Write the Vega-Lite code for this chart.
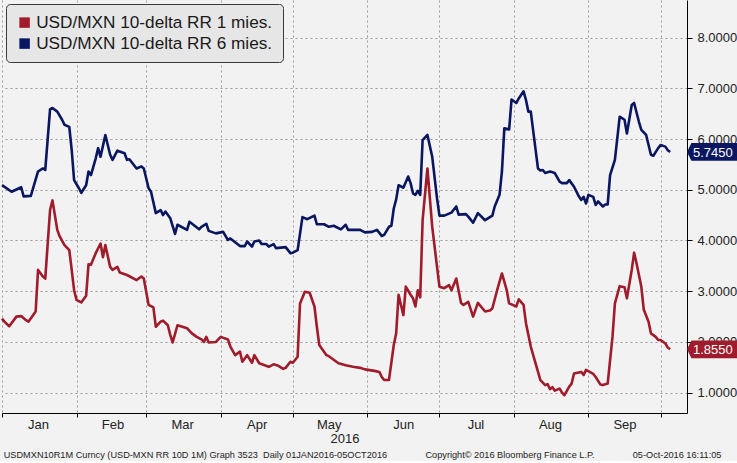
{
  "$schema": "https://vega.github.io/schema/vega-lite/v6.json",
  "width": 685,
  "height": 413,
  "padding": 0,
  "background": "#f2f2f2",
  "config": {
    "view": {"stroke": null},
    "font": "Liberation Sans",
    "axis": {
      "domainColor": "#000000",
      "tickColor": "#000000",
      "labelFont": "Liberation Sans",
      "labelFontSize": 13,
      "labelColor": "#222222",
      "gridColor": "#9a9a9a",
      "gridDash": [2, 3],
      "gridWidth": 1
    },
    "legend": {
      "orient": "top-left",
      "offset": 4,
      "padding": 10,
      "fillColor": "#e6e6e6",
      "strokeColor": "#3a3a3a",
      "cornerRadius": 4,
      "labelFont": "Liberation Sans",
      "labelFontSize": 17.2,
      "labelColor": "#1a1a1a",
      "labelLimit": 400,
      "symbolType": "square",
      "symbolSize": 110,
      "symbolStrokeWidth": 0,
      "labelOffset": 3,
      "rowPadding": 3
    }
  },
  "title": {
    "text": "USDMXN10R1M Curncy (USD-MXN RR 10D 1M) Graph 3523\u00a0\u00a0Daily 01JAN2016-05OCT2016\u00a0\u00a0\u00a0\u00a0\u00a0\u00a0\u00a0\u00a0\u00a0\u00a0\u00a0\u00a0\u00a0\u00a0\u00a0Copyright© 2016 Bloomberg Finance L.P.\u00a0\u00a0\u00a0\u00a0\u00a0\u00a0\u00a0\u00a0\u00a0\u00a0\u00a0\u00a0\u00a0\u00a0\u00a005-Oct-2016 16:11:05",
    "orient": "bottom",
    "anchor": "start",
    "font": "Liberation Sans",
    "fontSize": 9.2,
    "fontWeight": "normal",
    "color": "#222222",
    "offset": 6,
    "dx": 3
  },
  "datasets": {
    "series": [
      {"d":"2016-01-01","s":"6M","v":5.09},{"d":"2016-01-05","s":"6M","v":4.96},{"d":"2016-01-09","s":"6M","v":5.05},{"d":"2016-01-10","s":"6M","v":4.87},{"d":"2016-01-13","s":"6M","v":4.88},{"d":"2016-01-16","s":"6M","v":5.36},{"d":"2016-01-18","s":"6M","v":5.42},{"d":"2016-01-19","s":"6M","v":5.39},{"d":"2016-01-21","s":"6M","v":6.59},{"d":"2016-01-22","s":"6M","v":6.61},{"d":"2016-01-24","s":"6M","v":6.54},{"d":"2016-01-26","s":"6M","v":6.38},{"d":"2016-01-27","s":"6M","v":6.28},{"d":"2016-01-29","s":"6M","v":6.24},{"d":"2016-01-30","s":"6M","v":5.78},{"d":"2016-01-31","s":"6M","v":5.19},
      {"d":"2016-02-02","s":"6M","v":5.03},{"d":"2016-02-03","s":"6M","v":4.94},{"d":"2016-02-05","s":"6M","v":5.09},{"d":"2016-02-06","s":"6M","v":5.36},{"d":"2016-02-07","s":"6M","v":5.29},{"d":"2016-02-09","s":"6M","v":5.62},{"d":"2016-02-10","s":"6M","v":5.82},{"d":"2016-02-11","s":"6M","v":5.65},{"d":"2016-02-13","s":"6M","v":6.08},{"d":"2016-02-15","s":"6M","v":5.69},{"d":"2016-02-16","s":"6M","v":5.59},{"d":"2016-02-18","s":"6M","v":5.77},{"d":"2016-02-21","s":"6M","v":5.72},{"d":"2016-02-22","s":"6M","v":5.59},{"d":"2016-02-23","s":"6M","v":5.6},{"d":"2016-02-26","s":"6M","v":5.42},{"d":"2016-02-28","s":"6M","v":5.46},{"d":"2016-02-29","s":"6M","v":5.42},
      {"d":"2016-03-02","s":"6M","v":5.03},{"d":"2016-03-03","s":"6M","v":4.96},{"d":"2016-03-05","s":"6M","v":4.54},{"d":"2016-03-07","s":"6M","v":4.6},{"d":"2016-03-08","s":"6M","v":4.5},{"d":"2016-03-09","s":"6M","v":4.57},{"d":"2016-03-11","s":"6M","v":4.44},{"d":"2016-03-13","s":"6M","v":4.13},{"d":"2016-03-14","s":"6M","v":4.31},{"d":"2016-03-18","s":"6M","v":4.21},{"d":"2016-03-19","s":"6M","v":4.37},{"d":"2016-03-23","s":"6M","v":4.22},{"d":"2016-03-24","s":"6M","v":4.27},{"d":"2016-03-26","s":"6M","v":4.33},{"d":"2016-03-27","s":"6M","v":4.19},{"d":"2016-03-30","s":"6M","v":4.14},
      {"d":"2016-04-02","s":"6M","v":4.17},{"d":"2016-04-04","s":"6M","v":4.01},{"d":"2016-04-05","s":"6M","v":4.04},{"d":"2016-04-09","s":"6M","v":3.89},{"d":"2016-04-11","s":"6M","v":3.89},{"d":"2016-04-12","s":"6M","v":3.98},{"d":"2016-04-14","s":"6M","v":3.88},{"d":"2016-04-15","s":"6M","v":3.98},{"d":"2016-04-17","s":"6M","v":4.0},{"d":"2016-04-18","s":"6M","v":3.93},{"d":"2016-04-20","s":"6M","v":3.93},{"d":"2016-04-21","s":"6M","v":3.88},{"d":"2016-04-23","s":"6M","v":3.93},{"d":"2016-04-24","s":"6M","v":3.85},{"d":"2016-04-28","s":"6M","v":3.87},{"d":"2016-04-30","s":"6M","v":3.75},
      {"d":"2016-05-01","s":"6M","v":3.76},{"d":"2016-05-03","s":"6M","v":3.81},{"d":"2016-05-05","s":"6M","v":4.46},{"d":"2016-05-07","s":"6M","v":4.42},{"d":"2016-05-10","s":"6M","v":4.49},{"d":"2016-05-11","s":"6M","v":4.32},{"d":"2016-05-14","s":"6M","v":4.32},{"d":"2016-05-16","s":"6M","v":4.27},{"d":"2016-05-18","s":"6M","v":4.29},{"d":"2016-05-21","s":"6M","v":4.22},{"d":"2016-05-23","s":"6M","v":4.31},{"d":"2016-05-24","s":"6M","v":4.21},{"d":"2016-05-29","s":"6M","v":4.21},{"d":"2016-05-31","s":"6M","v":4.16},
      {"d":"2016-06-03","s":"6M","v":4.17},{"d":"2016-06-05","s":"6M","v":4.21},{"d":"2016-06-07","s":"6M","v":4.09},{"d":"2016-06-08","s":"6M","v":4.11},{"d":"2016-06-10","s":"6M","v":4.27},{"d":"2016-06-11","s":"6M","v":4.29},{"d":"2016-06-12","s":"6M","v":4.63},{"d":"2016-06-13","s":"6M","v":4.81},{"d":"2016-06-14","s":"6M","v":5.09},{"d":"2016-06-16","s":"6M","v":5.04},{"d":"2016-06-18","s":"6M","v":5.26},{"d":"2016-06-19","s":"6M","v":5.13},{"d":"2016-06-20","s":"6M","v":4.93},{"d":"2016-06-21","s":"6M","v":4.9},{"d":"2016-06-22","s":"6M","v":4.98},{"d":"2016-06-23","s":"6M","v":4.9},{"d":"2016-06-24","s":"6M","v":5.98},{"d":"2016-06-26","s":"6M","v":6.08},{"d":"2016-06-28","s":"6M","v":5.65},{"d":"2016-06-30","s":"6M","v":4.83},
      {"d":"2016-07-01","s":"6M","v":4.49},{"d":"2016-07-03","s":"6M","v":4.49},{"d":"2016-07-06","s":"6M","v":4.55},{"d":"2016-07-08","s":"6M","v":4.67},{"d":"2016-07-09","s":"6M","v":4.51},{"d":"2016-07-12","s":"6M","v":4.52},{"d":"2016-07-13","s":"6M","v":4.47},{"d":"2016-07-15","s":"6M","v":4.35},{"d":"2016-07-17","s":"6M","v":4.54},{"d":"2016-07-20","s":"6M","v":4.4},{"d":"2016-07-23","s":"6M","v":4.49},{"d":"2016-07-24","s":"6M","v":4.67},{"d":"2016-07-26","s":"6M","v":4.9},{"d":"2016-07-27","s":"6M","v":5.36},{"d":"2016-07-28","s":"6M","v":6.21},{"d":"2016-07-30","s":"6M","v":6.19},{"d":"2016-07-31","s":"6M","v":6.78},
      {"d":"2016-08-02","s":"6M","v":6.71},{"d":"2016-08-03","s":"6M","v":6.8},{"d":"2016-08-05","s":"6M","v":6.94},{"d":"2016-08-06","s":"6M","v":6.77},{"d":"2016-08-07","s":"6M","v":6.54},{"d":"2016-08-08","s":"6M","v":6.54},{"d":"2016-08-10","s":"6M","v":5.79},{"d":"2016-08-11","s":"6M","v":5.42},{"d":"2016-08-12","s":"6M","v":5.38},{"d":"2016-08-13","s":"6M","v":5.39},{"d":"2016-08-14","s":"6M","v":5.33},{"d":"2016-08-16","s":"6M","v":5.36},{"d":"2016-08-18","s":"6M","v":5.33},{"d":"2016-08-20","s":"6M","v":5.16},{"d":"2016-08-21","s":"6M","v":5.13},{"d":"2016-08-23","s":"6M","v":5.13},{"d":"2016-08-24","s":"6M","v":5.19},{"d":"2016-08-26","s":"6M","v":5.06},{"d":"2016-08-28","s":"6M","v":4.87},{"d":"2016-08-29","s":"6M","v":4.8},{"d":"2016-08-30","s":"6M","v":4.86},{"d":"2016-08-31","s":"6M","v":4.73},
      {"d":"2016-09-01","s":"6M","v":4.9},{"d":"2016-09-03","s":"6M","v":4.86},{"d":"2016-09-04","s":"6M","v":4.7},{"d":"2016-09-05","s":"6M","v":4.77},{"d":"2016-09-07","s":"6M","v":4.67},{"d":"2016-09-08","s":"6M","v":4.71},{"d":"2016-09-09","s":"6M","v":4.71},{"d":"2016-09-10","s":"6M","v":5.29},{"d":"2016-09-12","s":"6M","v":5.59},{"d":"2016-09-14","s":"6M","v":6.44},{"d":"2016-09-16","s":"6M","v":6.38},{"d":"2016-09-17","s":"6M","v":6.11},{"d":"2016-09-19","s":"6M","v":6.67},{"d":"2016-09-20","s":"6M","v":6.71},{"d":"2016-09-22","s":"6M","v":6.34},{"d":"2016-09-23","s":"6M","v":6.18},{"d":"2016-09-25","s":"6M","v":6.08},{"d":"2016-09-27","s":"6M","v":5.69},{"d":"2016-09-28","s":"6M","v":5.67},{"d":"2016-09-30","s":"6M","v":5.82},
      {"d":"2016-10-01","s":"6M","v":5.88},{"d":"2016-10-03","s":"6M","v":5.85},{"d":"2016-10-04","s":"6M","v":5.78},{"d":"2016-10-05","s":"6M","v":5.745},
      {"d":"2016-01-01","s":"1M","v":2.46},{"d":"2016-01-02","s":"1M","v":2.4},{"d":"2016-01-04","s":"1M","v":2.31},{"d":"2016-01-07","s":"1M","v":2.5},{"d":"2016-01-09","s":"1M","v":2.51},{"d":"2016-01-11","s":"1M","v":2.43},{"d":"2016-01-12","s":"1M","v":2.4},{"d":"2016-01-15","s":"1M","v":2.6},{"d":"2016-01-16","s":"1M","v":3.42},{"d":"2016-01-18","s":"1M","v":3.29},{"d":"2016-01-19","s":"1M","v":3.25},{"d":"2016-01-21","s":"1M","v":4.6},{"d":"2016-01-22","s":"1M","v":4.79},{"d":"2016-01-24","s":"1M","v":4.21},{"d":"2016-01-25","s":"1M","v":4.08},{"d":"2016-01-27","s":"1M","v":3.91},{"d":"2016-01-29","s":"1M","v":3.81},{"d":"2016-01-30","s":"1M","v":3.42},{"d":"2016-01-31","s":"1M","v":3.02},
      {"d":"2016-02-01","s":"1M","v":2.83},{"d":"2016-02-03","s":"1M","v":2.78},{"d":"2016-02-05","s":"1M","v":2.91},{"d":"2016-02-06","s":"1M","v":3.53},{"d":"2016-02-07","s":"1M","v":3.52},{"d":"2016-02-09","s":"1M","v":3.75},{"d":"2016-02-11","s":"1M","v":3.94},{"d":"2016-02-12","s":"1M","v":3.67},{"d":"2016-02-13","s":"1M","v":3.91},{"d":"2016-02-15","s":"1M","v":3.48},{"d":"2016-02-16","s":"1M","v":3.42},{"d":"2016-02-18","s":"1M","v":3.48},{"d":"2016-02-19","s":"1M","v":3.37},{"d":"2016-02-22","s":"1M","v":3.32},{"d":"2016-02-26","s":"1M","v":3.22},{"d":"2016-02-28","s":"1M","v":3.29},{"d":"2016-02-29","s":"1M","v":3.25},
      {"d":"2016-03-02","s":"1M","v":2.73},{"d":"2016-03-04","s":"1M","v":2.68},{"d":"2016-03-05","s":"1M","v":2.3},{"d":"2016-03-07","s":"1M","v":2.4},{"d":"2016-03-08","s":"1M","v":2.42},{"d":"2016-03-10","s":"1M","v":2.33},{"d":"2016-03-11","s":"1M","v":2.14},{"d":"2016-03-12","s":"1M","v":1.99},{"d":"2016-03-14","s":"1M","v":2.33},{"d":"2016-03-16","s":"1M","v":2.3},{"d":"2016-03-18","s":"1M","v":2.27},{"d":"2016-03-20","s":"1M","v":2.17},{"d":"2016-03-22","s":"1M","v":2.1},{"d":"2016-03-24","s":"1M","v":2.05},{"d":"2016-03-25","s":"1M","v":2.0},{"d":"2016-03-26","s":"1M","v":2.1},{"d":"2016-03-27","s":"1M","v":1.99},{"d":"2016-03-30","s":"1M","v":2.0},
      {"d":"2016-04-01","s":"1M","v":2.1},{"d":"2016-04-04","s":"1M","v":2.05},{"d":"2016-04-05","s":"1M","v":1.91},{"d":"2016-04-07","s":"1M","v":1.74},{"d":"2016-04-09","s":"1M","v":1.81},{"d":"2016-04-10","s":"1M","v":1.61},{"d":"2016-04-12","s":"1M","v":1.74},{"d":"2016-04-14","s":"1M","v":1.59},{"d":"2016-04-15","s":"1M","v":1.74},{"d":"2016-04-17","s":"1M","v":1.58},{"d":"2016-04-21","s":"1M","v":1.51},{"d":"2016-04-23","s":"1M","v":1.56},{"d":"2016-04-25","s":"1M","v":1.53},{"d":"2016-04-27","s":"1M","v":1.47},{"d":"2016-04-28","s":"1M","v":1.49},{"d":"2016-04-30","s":"1M","v":1.61},
      {"d":"2016-05-01","s":"1M","v":1.59},{"d":"2016-05-03","s":"1M","v":1.71},{"d":"2016-05-04","s":"1M","v":2.76},{"d":"2016-05-06","s":"1M","v":2.99},{"d":"2016-05-08","s":"1M","v":2.97},{"d":"2016-05-10","s":"1M","v":2.7},{"d":"2016-05-11","s":"1M","v":2.3},{"d":"2016-05-12","s":"1M","v":1.94},{"d":"2016-05-15","s":"1M","v":1.74},{"d":"2016-05-16","s":"1M","v":1.72},{"d":"2016-05-20","s":"1M","v":1.58},{"d":"2016-05-23","s":"1M","v":1.54},{"d":"2016-05-26","s":"1M","v":1.51},{"d":"2016-05-29","s":"1M","v":1.49},{"d":"2016-05-31","s":"1M","v":1.46},
      {"d":"2016-06-04","s":"1M","v":1.43},{"d":"2016-06-06","s":"1M","v":1.41},{"d":"2016-06-07","s":"1M","v":1.31},{"d":"2016-06-08","s":"1M","v":1.25},{"d":"2016-06-10","s":"1M","v":1.25},{"d":"2016-06-12","s":"1M","v":1.94},{"d":"2016-06-13","s":"1M","v":2.17},{"d":"2016-06-14","s":"1M","v":2.93},{"d":"2016-06-16","s":"1M","v":2.53},{"d":"2016-06-17","s":"1M","v":3.09},{"d":"2016-06-19","s":"1M","v":2.93},{"d":"2016-06-20","s":"1M","v":2.86},{"d":"2016-06-21","s":"1M","v":2.7},{"d":"2016-06-22","s":"1M","v":3.02},{"d":"2016-06-23","s":"1M","v":2.88},{"d":"2016-06-24","s":"1M","v":4.4},{"d":"2016-06-26","s":"1M","v":5.42},{"d":"2016-06-28","s":"1M","v":4.27},{"d":"2016-06-30","s":"1M","v":3.48},
      {"d":"2016-07-01","s":"1M","v":3.09},{"d":"2016-07-03","s":"1M","v":3.06},{"d":"2016-07-05","s":"1M","v":3.12},{"d":"2016-07-06","s":"1M","v":3.02},{"d":"2016-07-08","s":"1M","v":3.25},{"d":"2016-07-10","s":"1M","v":2.77},{"d":"2016-07-11","s":"1M","v":2.73},{"d":"2016-07-13","s":"1M","v":2.79},{"d":"2016-07-15","s":"1M","v":2.5},{"d":"2016-07-17","s":"1M","v":2.77},{"d":"2016-07-20","s":"1M","v":2.6},{"d":"2016-07-22","s":"1M","v":2.62},{"d":"2016-07-23","s":"1M","v":2.66},{"d":"2016-07-25","s":"1M","v":3.02},{"d":"2016-07-27","s":"1M","v":3.35},{"d":"2016-07-29","s":"1M","v":3.02},{"d":"2016-07-30","s":"1M","v":2.76},
      {"d":"2016-08-02","s":"1M","v":2.7},{"d":"2016-08-03","s":"1M","v":2.84},{"d":"2016-08-05","s":"1M","v":2.73},{"d":"2016-08-06","s":"1M","v":2.37},{"d":"2016-08-08","s":"1M","v":1.91},{"d":"2016-08-10","s":"1M","v":1.58},{"d":"2016-08-12","s":"1M","v":1.25},{"d":"2016-08-14","s":"1M","v":1.15},{"d":"2016-08-15","s":"1M","v":1.17},{"d":"2016-08-16","s":"1M","v":1.07},{"d":"2016-08-17","s":"1M","v":1.11},{"d":"2016-08-18","s":"1M","v":1.04},{"d":"2016-08-20","s":"1M","v":1.08},{"d":"2016-08-21","s":"1M","v":1.0},{"d":"2016-08-22","s":"1M","v":0.95},{"d":"2016-08-24","s":"1M","v":1.12},{"d":"2016-08-25","s":"1M","v":1.18},{"d":"2016-08-26","s":"1M","v":1.38},{"d":"2016-08-29","s":"1M","v":1.41},{"d":"2016-08-30","s":"1M","v":1.35},{"d":"2016-08-31","s":"1M","v":1.45},
      {"d":"2016-09-03","s":"1M","v":1.37},{"d":"2016-09-04","s":"1M","v":1.31},{"d":"2016-09-06","s":"1M","v":1.16},{"d":"2016-09-07","s":"1M","v":1.15},{"d":"2016-09-09","s":"1M","v":1.18},{"d":"2016-09-11","s":"1M","v":2.1},{"d":"2016-09-12","s":"1M","v":2.76},{"d":"2016-09-14","s":"1M","v":3.1},{"d":"2016-09-16","s":"1M","v":3.08},{"d":"2016-09-17","s":"1M","v":2.86},{"d":"2016-09-19","s":"1M","v":3.42},{"d":"2016-09-20","s":"1M","v":3.76},{"d":"2016-09-21","s":"1M","v":3.55},{"d":"2016-09-23","s":"1M","v":3.09},{"d":"2016-09-24","s":"1M","v":2.64},{"d":"2016-09-26","s":"1M","v":2.4},{"d":"2016-09-27","s":"1M","v":2.17},{"d":"2016-09-29","s":"1M","v":2.1},{"d":"2016-09-30","s":"1M","v":2.04},
      {"d":"2016-10-01","s":"1M","v":2.04},{"d":"2016-10-03","s":"1M","v":1.97},{"d":"2016-10-04","s":"1M","v":1.89},{"d":"2016-10-05","s":"1M","v":1.855}
    ],
    "tags": [
      {"s":"6M","v":5.745,"t":"5.7450"},
      {"s":"1M","v":1.855,"t":"1.8550"}
    ]
  },
  "layer": [
    {
      "data": {"name": "series"},
      "mark": {"type": "line", "strokeWidth": 2.6, "strokeJoin": "round"},
      "encoding": {
        "x": {
          "field": "d",
          "type": "temporal",
          "scale": {"domain": [{"year": 2016, "month": 1, "date": 1}, {"year": 2016, "month": 10, "date": 12}]},
          "axis": {
            "values": [
              {"year": 2016, "month": 1, "date": 1}, {"year": 2016, "month": 2, "date": 1}, {"year": 2016, "month": 3, "date": 1},
              {"year": 2016, "month": 4, "date": 1}, {"year": 2016, "month": 5, "date": 1}, {"year": 2016, "month": 6, "date": 1},
              {"year": 2016, "month": 7, "date": 1}, {"year": 2016, "month": 8, "date": 1}, {"year": 2016, "month": 9, "date": 1},
              {"year": 2016, "month": 10, "date": 1}
            ],
            "labelExpr": "month(datum.value) == 9 ? '' : timeFormat(datum.value, '%b')",
            "labelOffset": 36,
            "labelAlign": "center",
            "labelFlush": false,
            "labelOverlap": false,
            "labelBound": false,
            "labelPadding": 1,
            "tickSize": 4,
            "grid": true,
            "title": "2016",
            "titleFont": "Liberation Sans",
            "titleFontSize": 13,
            "titleFontWeight": "normal",
            "titleColor": "#222222",
            "titlePadding": 1
          }
        },
        "y": {
          "field": "v",
          "type": "quantitative",
          "scale": {"domain": [0.6, 8.74], "nice": false, "zero": false},
          "axis": {
            "orient": "right",
            "values": [1, 1.5, 2, 2.5, 3, 3.5, 4, 4.5, 5, 5.5, 6, 6.5, 7, 7.5, 8, 8.5],
            "format": ".4f",
            "labelExpr": "datum.value % 1 === 0 ? datum.label : ''",
            "gridOpacity": {"condition": {"test": "datum.value % 1 === 0", "value": 1}, "value": 0},
            "tickSize": 5,
            "labelPadding": 5,
            "title": null
          }
        },
        "color": {
          "field": "s",
          "type": "nominal",
          "scale": {"domain": ["1M", "6M"], "range": ["#a01b2b", "#0b1660"]},
          "legend": {
            "title": null,
            "labelExpr": "datum.label == '1M' ? 'USD/MXN 10-delta RR 1 mies.' : 'USD/MXN 10-delta RR 6 mies.'",
            "encode": {
              "symbols": {"update": {"fill": {"scale": "color", "field": "value"}, "stroke": {"value": "transparent"}, "opacity": {"value": 1}}}
            }
          }
        }
      }
    },
    {
      "data": {"name": "tags"},
      "mark": {"type": "point", "shape": "M0,0L0.17,-0.34L2,-0.34L2,0.34L0.17,0.34Z", "size": 2704, "filled": true, "opacity": 1, "strokeWidth": 0},
      "encoding": {
        "x": {"datum": {"year": 2016, "month": 10, "date": 12}, "type": "temporal"},
        "y": {"field": "v", "type": "quantitative"},
        "color": {"field": "s", "type": "nominal", "legend": null}
      }
    },
    {
      "data": {"name": "tags"},
      "mark": {"type": "text", "align": "left", "baseline": "middle", "dx": 6, "dy": 1, "color": "#ffffff", "font": "Liberation Sans", "fontSize": 13},
      "encoding": {
        "x": {"datum": {"year": 2016, "month": 10, "date": 12}, "type": "temporal"},
        "y": {"field": "v", "type": "quantitative"},
        "text": {"field": "t"}
      }
    }
  ]
}
